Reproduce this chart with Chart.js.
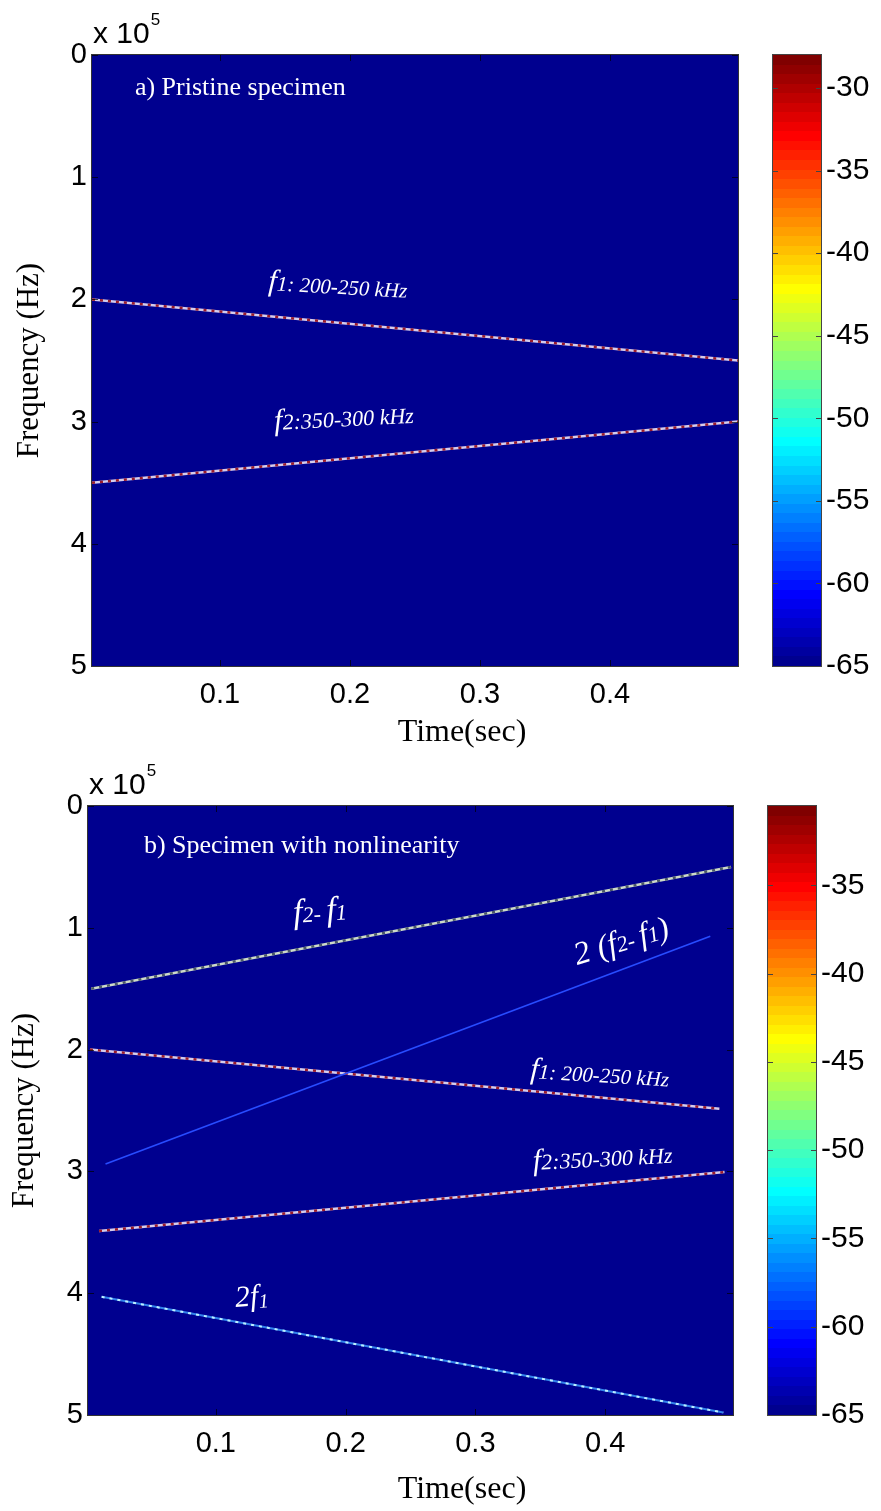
<!DOCTYPE html>
<html>
<head>
<meta charset="utf-8">
<script src="https://cdn.jsdelivr.net/npm/chart.js@4.4.1/dist/chart.umd.min.js"></script>
<style>
html,body{margin:0;padding:0;background:#fff;}
body{width:881px;height:1511px;position:relative;overflow:hidden;}
canvas{position:absolute;}
</style>
</head>
<body>
<canvas id="plotA" width="760" height="755" style="left:0;top:0"></canvas>
<canvas id="cbarA" width="121" height="755" style="left:760px;top:0"></canvas>
<canvas id="plotB" width="760" height="756" style="left:0;top:755px"></canvas>
<canvas id="cbarB" width="121" height="756" style="left:760px;top:755px"></canvas>
<script>
/* ── axes ── */
var timeRange = [0.0015, 0.4985];           // s
var timeTicks = [0.1, 0.2, 0.3, 0.4];
var freqRange = [0, 500000];                // Hz
var freqTicks = [0, 100000, 200000, 300000, 400000, 500000];

/* ── a) pristine specimen: start / end of each chirp ── */
var a_f1_t = [0.0015, 0.4985], a_f1_hz = [200000, 250000];
var a_f2_t = [0.0015, 0.4985], a_f2_hz = [350000, 300000];

/* ── b) specimen with nonlinearity ── */
var b_df_t  = [0.004, 0.497], b_df_hz  = [150000, 50000];   // f2 - f1
var b_2df_t = [0.015, 0.481], b_2df_hz = [294000, 107000];  // 2(f2 - f1)
var b_f1_t  = [0.003, 0.488], b_f1_hz  = [200000, 248500];
var b_f2_t  = [0.010, 0.492], b_f2_hz  = [349000, 300500];
var b_2f1_t = [0.012, 0.491], b_2f1_hz = [403000, 498000];  // 2 f1

/* ── colour bars (dB) ── */
var cbarRangeA = [-65, -28];
var cbarTicksA = [-30, -35, -40, -45, -50, -55, -60, -65];
var cbarRangeB = [-65, -30.5];
var cbarTicksB = [-35, -40, -45, -50, -55, -60, -65];

var SANS = '"Liberation Sans", Arial, Helvetica, sans-serif';
var SERIF = '"Liberation Serif", "Times New Roman", serif';

function jet(t){
  function c(v){ return Math.round(255*Math.max(0, Math.min(1, v))); }
  return 'rgb('+c(Math.min(4*t-1.5, -4*t+4.5))+','+c(Math.min(4*t-0.5, -4*t+3.5))+','+c(Math.min(4*t+0.5, -4*t+2.5))+')';
}
var NAVY = jet(1/64);

function toXY(t, hz){
  return t.map(function(v, i){ return {x:v, y:hz[i]}; });
}

// chart.js paints dataset 0 last, so the dotted overlay goes first
function chirp(t, hz, base, dots, w){
  var pts = toXY(t, hz);
  var sets = [];
  if(dots) sets.push({data:pts, borderColor:dots, borderWidth:w, borderDash:[3,5], showLine:true, pointRadius:0});
  sets.push({data:pts, borderColor:base, borderWidth:w, showLine:true, pointRadius:0});
  return sets;
}

/* background, frame, inward ticks, x10^5, x title and the white labels */
var spectroPlugin = {
  id:'spectro',
  beforeDatasetsDraw: function(chart){
    var a = chart.chartArea, ctx = chart.ctx;
    ctx.save();
    ctx.fillStyle = NAVY;
    ctx.fillRect(a.left, a.top, a.right-a.left, a.bottom-a.top);
    ctx.restore();
  },
  afterDraw: function(chart, args, opts){
    var a = chart.chartArea, ctx = chart.ctx, sx = chart.scales.x, sy = chart.scales.y;
    ctx.save();
    ctx.strokeStyle = 'rgba(0,0,0,0.7)';
    ctx.lineWidth = 1;
    timeTicks.forEach(function(v){
      var px = Math.round(sx.getPixelForValue(v))+0.5;
      ctx.beginPath();
      ctx.moveTo(px, a.top); ctx.lineTo(px, a.top+6);
      ctx.moveTo(px, a.bottom); ctx.lineTo(px, a.bottom-6);
      ctx.stroke();
    });
    freqTicks.forEach(function(v){
      var py = Math.round(sy.getPixelForValue(v))+0.5;
      ctx.beginPath();
      ctx.moveTo(a.left, py); ctx.lineTo(a.left+6, py);
      ctx.moveTo(a.right, py); ctx.lineTo(a.right-6, py);
      ctx.stroke();
    });
    ctx.strokeStyle = '#333';
    ctx.strokeRect(a.left-0.5, a.top-0.5, a.right-a.left+1, a.bottom-a.top+1);

    // exponent
    ctx.fillStyle = '#000';
    ctx.textBaseline = 'alphabetic';
    ctx.font = '30px '+SANS;
    ctx.fillText('x 10', a.left+1, a.top-12);
    var w = ctx.measureText('x 10').width;
    ctx.font = '17px '+SANS;
    ctx.fillText('5', a.left+2+w, a.top-30);

    // x axis title (sits right of the axis centre in the original)
    ctx.font = '32px '+SERIF;
    ctx.textAlign = 'center';
    ctx.textBaseline = 'middle';
    ctx.fillText('Time(sec)', opts.titleX, opts.titleY);
    ctx.textAlign = 'left';
    ctx.textBaseline = 'alphabetic';

    (opts.labels || []).forEach(function(lb){
      var x = sx.getPixelForValue(lb.t), y = sy.getPixelForValue(lb.hz);
      ctx.save();
      ctx.translate(x, y);
      ctx.rotate((lb.rot||0)*Math.PI/180);
      ctx.fillStyle = '#fff';
      var cx = 0;
      lb.parts.forEach(function(p){
        ctx.font = (p.i ? 'italic ' : '')+p.s+'px '+SERIF;
        ctx.fillText(p.t, cx, p.dy||0);
        cx += ctx.measureText(p.t).width;
      });
      ctx.restore();
    });
    ctx.restore();
  }
};

function makePlot(id, datasets, labels, geo){
  return new Chart(document.getElementById(id), {
    type:'scatter',
    data:{datasets:datasets},
    options:{
      responsive:false,
      animation:false,
      devicePixelRatio:1,
      layout:{padding:{left:0, top:geo.top, right:geo.right, bottom:0}},
      plugins:{legend:{display:false}, tooltip:{enabled:false},
        spectro:{labels:labels, titleX:geo.tx, titleY:geo.ty}},
      scales:{
        x:{
          type:'linear', min:timeRange[0], max:timeRange[1],
          grid:{display:false, drawTicks:false}, border:{display:false},
          afterBuildTicks:function(s){ s.ticks = timeTicks.map(function(v){return {value:v};}); },
          afterFit:function(s){ s.height = geo.xh; },
          ticks:{padding:12, color:'#000', font:{family:SANS, size:29}, callback:function(v){ return v.toFixed(1); }}
        },
        y:{
          type:'linear', reverse:true, min:freqRange[0], max:freqRange[1],
          grid:{display:false, drawTicks:false}, border:{display:false},
          afterBuildTicks:function(s){ s.ticks = freqTicks.map(function(v){return {value:v};}); },
          afterFit:function(s){ s.width = geo.yw; },
          ticks:{padding:5, color:'#000', font:{family:SANS, size:29}, callback:function(v){ return String(v/100000); }},
          title:{display:true, text:'Frequency (Hz)', color:'#000', font:{family:SERIF, size:31}, padding:{top:geo.ytp, bottom:0}}
        }
      }
    },
    plugins:[spectroPlugin]
  });
}

/* colour bar frame and tick marks */
var cbarPlugin = {
  id:'cbarFrame',
  afterDraw: function(chart, args, opts){
    var a = chart.chartArea, ctx = chart.ctx, sy = chart.scales.y;
    ctx.save();
    ctx.strokeStyle = '#444';
    ctx.lineWidth = 1;
    ctx.strokeRect(a.left-0.5, a.top-0.5, a.right-a.left+1, a.bottom-a.top+1);
    opts.ticks.forEach(function(v){
      var py = Math.round(sy.getPixelForValue(v))+0.5;
      ctx.beginPath();
      ctx.moveTo(a.left, py); ctx.lineTo(a.left+5, py);
      ctx.moveTo(a.right, py); ctx.lineTo(a.right-5, py);
      ctx.stroke();
    });
    ctx.restore();
  }
};

function jetFill(chart, range){
  var a = chart.chartArea;
  if(!a) return NAVY;
  var sy = chart.scales.y;
  var g = chart.ctx.createLinearGradient(0, sy.getPixelForValue(range[0]), 0, sy.getPixelForValue(range[1]));
  for(var i=0;i<64;i++){
    var c = jet((i+1)/64);
    g.addColorStop(i/64, c);
    g.addColorStop((i+1)/64, c);
  }
  return g;
}

function makeCbar(id, range, ticks, geo){
  return new Chart(document.getElementById(id), {
    type:'bar',
    data:{
      labels:['dB'],
      datasets:[{
        data:[range],
        backgroundColor:function(c){ return jetFill(c.chart, range); },
        borderWidth:0, barPercentage:1, categoryPercentage:1
      }]
    },
    options:{
      responsive:false,
      animation:false,
      devicePixelRatio:1,
      layout:{padding:{left:geo.left, top:geo.top, right:0, bottom:geo.bottom}},
      plugins:{legend:{display:false}, tooltip:{enabled:false}, cbarFrame:{ticks:ticks}},
      scales:{
        x:{display:false},
        y:{
          position:'right', min:range[0], max:range[1],
          grid:{display:false, drawTicks:false}, border:{display:false},
          afterBuildTicks:function(s){ s.ticks = ticks.map(function(v){return {value:v};}); },
          afterFit:function(s){ s.width = geo.axis; },
          ticks:{padding:5, color:'#000', font:{family:SANS, size:30}}
        }
      }
    },
    plugins:[cbarPlugin]
  });
}

/* ── panel a ── */
var lineCol = 'rgb(214,204,236)', lineDots = '#9a1a2a';
var setsA = [].concat(
  chirp(a_f1_t, a_f1_hz, lineCol, lineDots, 2.5),
  chirp(a_f2_t, a_f2_hz, lineCol, lineDots, 2.5)
);
var labelsA = [
  {t:0.0345, hz:32700, parts:[{t:'a) Pristine specimen', s:26}]},
  {t:0.137, hz:192300, rot:3.2, parts:[{t:'f', s:30, i:true}, {t:'1: 200-250 kHz', s:21, i:true}]},
  {t:0.142, hz:306900, rot:-3, parts:[{t:'f', s:30, i:true}, {t:'2:350-300 kHz', s:22, i:true}]}
];
makePlot('plotA', setsA, labelsA, {top:55, right:22, xh:89, yw:92, ytp:11, tx:462, ty:733});
makeCbar('cbarA', cbarRangeA, cbarTicksA, {left:13, top:55, bottom:89, axis:60});

/* ── panel b ── */
var setsB = [].concat(
  chirp(b_df_t, b_df_hz, 'rgb(205,218,200)', '#4a5868', 2.5),
  chirp(b_2df_t, b_2df_hz, 'rgb(40,76,255)', null, 1.6),
  chirp(b_f1_t, b_f1_hz, lineCol, lineDots, 2.5),
  chirp(b_f2_t, b_f2_hz, lineCol, lineDots, 2.5),
  chirp(b_2f1_t, b_2f1_hz, 'rgb(50,130,235)', 'rgb(190,240,255)', 2)
);
var labelsB = [
  {t:0.0446, hz:38600, parts:[{t:'b) Specimen with nonlinearity', s:26}]},
  {t:0.160, hz:96000, rot:-4, parts:[{t:'f', s:34, i:true}, {t:'2- ', s:22, i:true}, {t:'f', s:34, i:true}, {t:'1', s:22, i:true}]},
  {t:0.3785, hz:130500, rot:-17, parts:[{t:'2 (', s:32, i:true}, {t:'f', s:32, i:true}, {t:'2- ', s:22, i:true}, {t:'f', s:32, i:true}, {t:'1', s:22, i:true}, {t:')', s:32, i:true}]},
  {t:0.342, hz:223300, rot:3.5, parts:[{t:'f', s:30, i:true}, {t:'1: 200-250 kHz', s:21, i:true}]},
  {t:0.3446, hz:298800, rot:-3, parts:[{t:'f', s:30, i:true}, {t:'2:350-300 kHz', s:22, i:true}]},
  {t:0.1154, hz:411300, rot:-5, parts:[{t:'2f', s:30, i:true}, {t:'1', s:20, i:true, dy:3}]}
];
makePlot('plotB', setsB, labelsB, {top:51, right:27, xh:96, yw:88, ytp:6, tx:462, ty:735});
makeCbar('cbarB', cbarRangeB, cbarTicksB, {left:8, top:51, bottom:96, axis:65});
</script>
</body>
</html>
